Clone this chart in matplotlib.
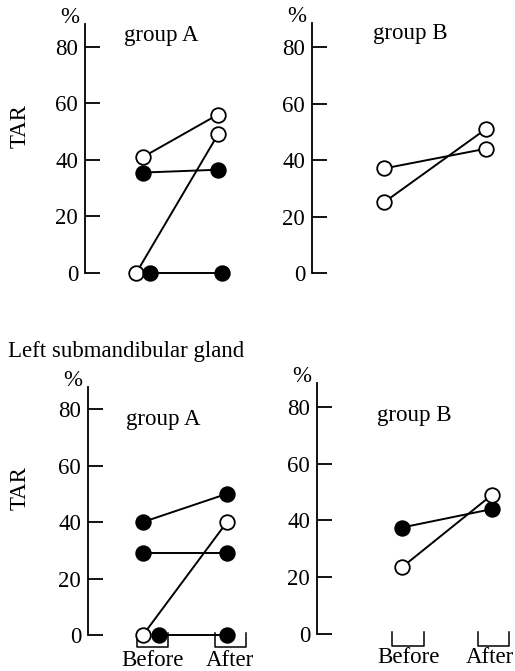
import matplotlib
matplotlib.use("Agg")
import matplotlib.pyplot as plt

plt.rcParams['font.family'] = ['Liberation Serif', 'DejaVu Serif']

# ---- data (TAR %, before -> after) ----
tl_open = [[41, 56], [0, 49]]
tl_filled = [[35.5, 36.5], [0, 0]]
tr_open = [[37, 44], [25, 51]]
tr_filled = []
bl_open = [[0, 40]]
bl_filled = [[40, 50], [29, 29], [0, 0]]
br_open = [[23.5, 49]]
br_filled = [[37.5, 44]]
yticks = [0, 20, 40, 60, 80]
phase_labels = ["Before", "After"]

# small horizontal shifts so overlapping zero points stay visible
tl_open_shift = [[0, 0], [-0.09, 0]]
tl_filled_shift = [[0, 0], [0.09, 0.05]]
bl_filled_shift = [[0, 0], [0, 0], [0.19, 0]]

W, H = 515, 671
fig = plt.figure(figsize=(W / 100, H / 100), dpi=100)
FS = 16.5

def add_ax(l, t, r, b):
    return fig.add_axes([l / W, 1 - b / H, (r - l) / W, (b - t) / H])

def style(ax, xlim, ymax, title, title_xy):
    ax.set_xlim(*xlim)
    ax.set_ylim(0, ymax)
    for s in ['top', 'right', 'bottom']:
        ax.spines[s].set_visible(False)
    ax.spines['left'].set_linewidth(1.3)
    ax.set_xticks([])
    ax.set_yticks(yticks)
    ax.tick_params(axis='y', direction='in', length=11, width=1.3, pad=5, labelsize=FS)
    ax.annotate('%', xy=(0, 1), xycoords='axes fraction', xytext=(-11, 5),
                textcoords='offset points', ha='center', va='center', fontsize=FS)
    fig.text(title_xy[0] / W, 1 - title_xy[1] / H, title, ha='center', va='center', fontsize=FS)

def draw(ax, series, filled, shifts=None):
    for i, vals in enumerate(series):
        sh = shifts[i] if shifts else [0, 0]
        xs = [0 + sh[0], 1 + sh[1]]
        ax.plot(xs, vals, color='black', lw=1.4, clip_on=False, zorder=2)
        ax.plot(xs, vals, 'o', ms=10.5, mew=1.3, mec='black',
                mfc='black' if filled else 'white', clip_on=False, zorder=3)

def brackets(ax, spans, label_x, label_y):
    for (x0, x1), lx, lab in zip(spans, label_x, phase_labels):
        ax.plot([x0, x0, x1, x1], [0.7, -4.2, -4.2, 0.7], color='black', lw=1.1, clip_on=False)
        ax.text(lx, label_y, lab, ha='center', va='center', fontsize=FS, clip_on=False)

# top left
ax1 = add_ax(85, 24, 240, 273)
style(ax1, (-0.773, 1.293), 88, 'group A', (161, 36))
draw(ax1, tl_open, False, tl_open_shift)
draw(ax1, tl_filled, True, tl_filled_shift)

# top right
ax2 = add_ax(312, 23, 515, 273)
style(ax2, (-0.706, 1.284), 88.5, 'group B', (410, 34))
draw(ax2, tr_open, False)

# bottom left
ax3 = add_ax(88, 387, 260, 635)
style(ax3, (-0.655, 1.393), 87.8, 'group A', (163, 420))
draw(ax3, bl_filled, True, bl_filled_shift)
draw(ax3, bl_open, False)
brackets(ax3, [(-0.07, 0.30), (0.857, 1.226)], [0.11, 1.04], -9.2)

# bottom right
ax4 = add_ax(317, 383, 515, 634)
style(ax4, (-0.944, 1.256), 88.4, 'group B', (414, 416))
draw(ax4, br_filled, True)
draw(ax4, br_open, False)
brackets(ax4, [(-0.11, 0.244), (0.844, 1.19)], [0.067, 0.975], -8.3)

fig.text(20 / W, 1 - 126 / H, 'TAR', rotation=90, ha='center', va='center', fontsize=FS)
fig.text(20 / W, 1 - 488 / H, 'TAR', rotation=90, ha='center', va='center', fontsize=FS)
fig.text(8 / W, 1 - 352 / H, 'Left submandibular gland', ha='left', va='center', fontsize=FS)

fig.savefig('out.png', dpi=100)
